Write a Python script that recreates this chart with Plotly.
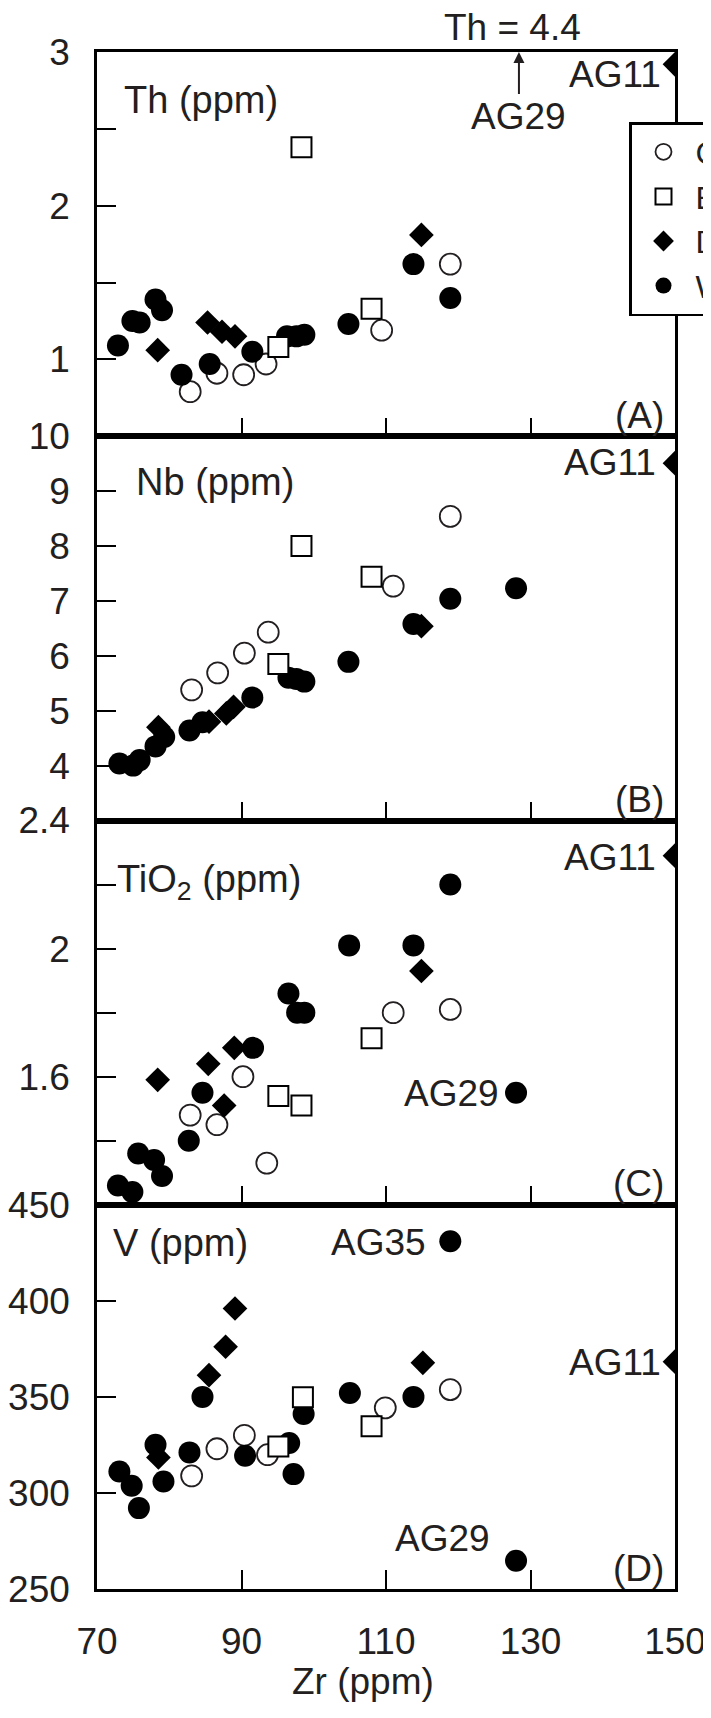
import plotly.graph_objects as go
from plotly.subplots import make_subplots

FONT = "Liberation Sans, Arial, Helvetica, sans-serif"
TXT = "#231f20"

# ---------------- data (Zr in ppm on x) ----------------
# Panel A: Th
a_c_zr = [82.9, 86.6, 90.3, 93.4, 109.4, 118.9]
a_c_th = [0.79, 0.91, 0.90, 0.97, 1.19, 1.62]
a_e_zr = [95.1, 98.3, 108.0]
a_e_th = [1.08, 2.38, 1.33]
a_d_zr = [78.4, 85.3, 87.3, 89.1, 114.9, 150.0]
a_d_th = [1.06, 1.24, 1.18, 1.15, 1.81, 2.92]
a_w_zr = [72.9, 74.9, 75.9, 78.1, 79.0, 81.7, 85.6, 91.5, 96.3, 97.6, 98.7, 104.8, 113.8, 118.9]
a_w_th = [1.09, 1.25, 1.24, 1.39, 1.32, 0.90, 0.97, 1.05, 1.15, 1.15, 1.16, 1.23, 1.62, 1.40]

# Panel B: Nb
b_c_zr = [83.1, 86.7, 90.4, 93.7, 111.0, 118.9]
b_c_nb = [5.38, 5.69, 6.05, 6.43, 7.27, 8.54]
b_e_zr = [95.1, 98.3, 108.0]
b_e_nb = [5.85, 8.00, 7.44]
b_d_zr = [78.5, 85.5, 87.9, 88.9, 114.9, 150.0]
b_d_nb = [4.70, 4.80, 4.95, 5.07, 6.54, 9.51]
b_w_zr = [73.1, 75.0, 75.9, 78.1, 79.3, 82.8, 84.6, 91.5, 96.5, 97.6, 98.7, 104.8, 113.8, 118.9, 128.0]
b_w_nb = [4.04, 4.00, 4.10, 4.35, 4.52, 4.64, 4.79, 5.24, 5.60, 5.58, 5.53, 5.89, 6.58, 7.04, 7.23]

# Panel C: TiO2
c_c_zr = [82.9, 86.6, 90.2, 93.5, 111.0, 118.9]
c_c_ti = [1.48, 1.45, 1.60, 1.33, 1.80, 1.81]
c_e_zr = [95.1, 98.3, 108.0]
c_e_ti = [1.54, 1.51, 1.72]
c_d_zr = [78.4, 85.4, 87.6, 89.0, 114.9, 150.0]
c_d_ti = [1.59, 1.64, 1.51, 1.69, 1.93, 2.29]
c_w_zr = [72.9, 74.9, 75.7, 77.9, 79.0, 82.7, 84.6, 91.6, 96.5, 97.7, 98.7, 104.9, 113.8, 118.9, 128.0]
c_w_ti = [1.26, 1.24, 1.36, 1.34, 1.29, 1.40, 1.55, 1.69, 1.86, 1.80, 1.80, 2.01, 2.01, 2.20, 1.55]

# Panel D: V
d_c_zr = [83.1, 86.6, 90.4, 93.6, 109.9, 118.9]
d_c_v = [308.9, 323.0, 330.0, 319.9, 344.3, 353.8]
d_e_zr = [95.1, 98.5, 108.0]
d_e_v = [324.2, 349.8, 334.7]
d_d_zr = [78.5, 85.5, 87.8, 89.1, 115.1, 150.0]
d_d_v = [318.5, 361.3, 376.1, 396.0, 367.7, 368.3]
d_w_zr = [73.1, 74.8, 75.8, 78.1, 79.2, 82.8, 84.6, 90.5, 96.6, 97.2, 98.6, 105.0, 113.8, 118.9, 128.0]
d_w_v = [311.2, 303.7, 292.1, 325.1, 306.0, 321.1, 350.0, 319.4, 326.0, 309.8, 341.1, 352.0, 350.0, 431.0, 264.7]

group_names = ["Central", "East", "Dykes", "West"]

x_ticks = [70, 90, 110, 130, 150]
y_ranges = [[0.5, 3], [3, 10], [1.2, 2.4], [250, 450]]
y_major = [[1, 2, 3], [4, 5, 6, 7, 8, 9, 10], [1.6, 2.0, 2.4], [250, 300, 350, 400, 450]]
y_major_text = [["1", "2", "3"], ["4", "5", "6", "7", "8", "9", "10"],
                ["1.6", "2", "2.4"], ["250", "300", "350", "400", "450"]]
y_minor = [[1.5, 2.5], [], [1.4, 1.8, 2.2], []]

panels = [
    (a_c_zr, a_c_th, a_e_zr, a_e_th, a_d_zr, a_d_th, a_w_zr, a_w_th),
    (b_c_zr, b_c_nb, b_e_zr, b_e_nb, b_d_zr, b_d_nb, b_w_zr, b_w_nb),
    (c_c_zr, c_c_ti, c_e_zr, c_e_ti, c_d_zr, c_d_ti, c_w_zr, c_w_ti),
    (d_c_zr, d_c_v, d_e_zr, d_e_v, d_d_zr, d_d_v, d_w_zr, d_w_v),
]

styles = {
    "C": dict(symbol="circle", size=21, color="white", line=dict(color=TXT, width=1.8)),
    "E": dict(symbol="square", size=20, color="white", line=dict(color="black", width=2)),
    "D": dict(symbol="diamond", size=19, color="black", line=dict(width=0)),
    "W": dict(symbol="circle", size=22, color="black", line=dict(width=0)),
}
rank = {"C": 1, "E": 2, "D": 3, "W": 4}
name_of = {"C": group_names[0], "E": group_names[1], "D": group_names[2], "W": group_names[3]}

fig = make_subplots(rows=4, cols=1, shared_xaxes=True, vertical_spacing=0)

for i, p in enumerate(panels):
    row = i + 1
    data = {"C": (p[0], p[1]), "E": (p[2], p[3]), "D": (p[4], p[5]), "W": (p[6], p[7])}
    for key in ["C", "W", "D", "E"]:
        xs, ys = data[key]
        fig.add_trace(go.Scatter(
            x=xs, y=ys, mode="markers", name=name_of[key],
            legendgroup=key, showlegend=(row == 1), legendrank=rank[key],
            marker=styles[key], cliponaxis=True, hoverinfo="x+y",
        ), row=row, col=1)

axis_common = dict(showline=True, linecolor="black", linewidth=2.5, mirror=True,
                   showgrid=False, zeroline=False, ticks="inside", ticklen=19,
                   tickwidth=2, tickcolor="black",
                   tickfont=dict(family=FONT, size=37, color=TXT))

for i in range(4):
    row = i + 1
    fig.update_xaxes(range=[70, 150], tickvals=x_ticks, ticktext=[str(v) for v in x_ticks],
                     showticklabels=(row == 4), ticklabelstandoff=18, **axis_common,
                     row=row, col=1)
    fig.update_yaxes(range=y_ranges[i], tickvals=y_major[i], ticktext=y_major_text[i],
                     ticklabelstandoff=17, **axis_common, row=row, col=1)
    if y_minor[i]:
        fig.update_yaxes(minor=dict(tickvals=y_minor[i], ticks="inside", ticklen=19,
                                    tickwidth=2, tickcolor="black", showgrid=False),
                         row=row, col=1)

# --------- geometry: reference pixel frame (page body adds an 8 px offset) ---------
OFF = 8
FIG_W, FIG_H = 711 - OFF, 1718 - OFF
L, R, T, B = 97, 675, 52, 1589          # plot area in reference page pixels
W_PLOT, H_PLOT = R - L, B - T


def ann(text, px, py, xanchor="left", size=37):
    fig.add_annotation(text=text, x=(px - L) / W_PLOT, y=(B - py) / H_PLOT,
                       xref="paper", yref="paper", xanchor=xanchor, yanchor="middle",
                       showarrow=False, font=dict(family=FONT, size=size, color=TXT))


panel_bot = [T + (k + 1) * H_PLOT / 4 for k in range(4)]

ann("Th (ppm)", 122, 100, size=38)
ann("Nb (ppm)", 134, 482, size=38)
ann("TiO<sub>2</sub> (ppm)", 115, 882, size=38)
ann("V (ppm)", 111, 1243, size=38)
for k, lab in enumerate(["(A)", "(B)", "(C)", "(D)"]):
    ann(lab, 666, panel_bot[k] - 21, xanchor="right")

ann("Th = 4.4", 512, 28, xanchor="center")
ann("AG11", 663, 75, xanchor="right")
ann("AG11", 658, 463, xanchor="right")
ann("AG11", 658, 857, xanchor="right")
ann("AG29", 501, 1093, xanchor="right")
ann("AG35", 428, 1242, xanchor="right")
ann("AG11", 663, 1362, xanchor="right")
ann("AG29", 492, 1538, xanchor="right")
ann("Zr (ppm)", 363, 1682, xanchor="center")

# AG29 label with arrow pointing up to its off-scale Th value (4.4)
fig.add_annotation(x=128.4, y=3.0, xref="x", yref="y", text="AG29", showarrow=True,
                   ax=0, ay=64, arrowhead=2, arrowsize=1.1, arrowwidth=2,
                   arrowcolor=TXT, standoff=0,
                   font=dict(family=FONT, size=37, color=TXT))

fig.update_layout(
    width=FIG_W, height=FIG_H,
    margin=dict(l=L - OFF, r=FIG_W - (R - OFF), t=T - OFF, b=FIG_H - (B - OFF),
                autoexpand=False, pad=0),
    paper_bgcolor="white", plot_bgcolor="white",
    font=dict(family=FONT, size=37, color=TXT),
    showlegend=True,
    legend=dict(x=(629 - L) / W_PLOT, y=(B - 122) / H_PLOT, xanchor="left", yanchor="top",
                bgcolor="white", bordercolor="black", borderwidth=2.5,
                font=dict(family=FONT, size=32, color=TXT), itemwidth=54,
                tracegroupgap=0, traceorder="normal"),
)

fig.write_html("out.html")
